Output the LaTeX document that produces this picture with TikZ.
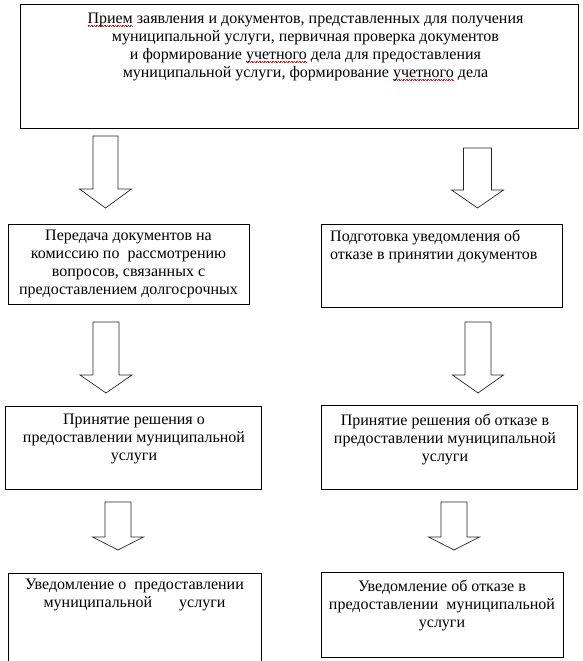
\documentclass[tikz,border=0pt]{standalone}
\usepackage{fontspec}
\setmainfont{Liberation Serif}
\definecolor{spellred}{RGB}{220,30,30}
\newcommand\redwave[1]{\leavevmode\setbox0=\hbox{#1}\rlap{\hbox to \wd0{\color{spellred}\xleaders\hbox{\rule[-2.6pt]{0.8pt}{0.6pt}\rule[-3.4pt]{0.8pt}{0.6pt}}\hfill}}\box0\relax}
\tikzset{
  box/.style={draw=black, line width=0.8pt, inner sep=0pt, anchor=north west},
  txt/.style={inner sep=0pt, font=\rmfamily\fontsize{16}{18}\selectfont, align=center, anchor=north},
  barrow/.style={draw=black!85, line width=0.7pt, fill=white, line join=miter}
}
\newcommand\BArrow[6]{\draw[barrow] (#1-#5,#2) -- (#1+#5,#2) -- (#1+#5,#3) -- (#1+#6,#3) -- (#1,#4) -- (#1-#6,#3) -- (#1-#5,#3) -- cycle;}
\begin{document}
\begin{tikzpicture}[x=1pt,y=-1pt]
\useasboundingbox[fill=white] (0,0) rectangle (582,661);
% boxes
\node[box, minimum width=558pt, minimum height=123.5pt] (top) at (20,4.5) {};
\node[box, minimum width=241pt, minimum height=80pt] (l2) at (8,224) {};
\node[box, minimum width=241pt, minimum height=83pt] (r2) at (321,224) {};
\node[box, minimum width=256.5pt, minimum height=83pt] (l3) at (4.5,406) {};
\node[box, minimum width=256pt, minimum height=84pt] (r3) at (321,405) {};
\node[box, draw=none, minimum width=253pt, minimum height=88pt] (l4) at (8,573) {};
\draw[line width=0.8pt] (l4.south west) -- (l4.north west) -- (l4.north east) -- (l4.south east);
\node[box, minimum width=242pt, minimum height=85pt] (r4) at (321,572) {};
% texts
\node[txt] (ttop) at (305.5,12.5) {\redwave{Прием} заявления и документов, представленных для получения\\
муниципальной услуги, первичная проверка документов\\
и формирование \redwave{учетного} дела для предоставления\\
муниципальной услуги, формирование \redwave{учетного} дела};
\node[txt] (tl2) at (128.5,229.5) {Передача документов на\\
комиссию по\ \ рассмотрению\\
вопросов, связанных с\\
предоставлением долгосрочных};
\node[txt, anchor=north west, align=left] (tr2) at (330,229.5) {Подготовка уведомления об\\
отказе в принятии документов};
\node[txt] (tl3) at (134,414) {Принятие решения о\\
предоставлении муниципальной\\
услуги};
\node[txt] (tr3) at (445,414) {Принятие решения об отказе в\\
предоставлении муниципальной\\
услуги};
\node[txt] (tl4) at (134.5,578.5) {Уведомление о\ \ предоставлении\\
муниципальной\hspace{27pt}услуги};
\node[txt] (tr4) at (442,580) {Уведомление об отказе в\\
предоставлении\ \ муниципальной\\
услуги};
% block arrows
\BArrow{105.5}{136}{189}{208}{12.5}{26}
\BArrow{477.5}{148}{190}{208}{14}{26}
\BArrow{106}{322}{375}{393}{13}{26}
\BArrow{478}{322}{375}{393}{13}{25.5}
\BArrow{118}{502}{537}{550}{13}{25.5}
\BArrow{454}{502}{537}{550}{13}{25.5}
\end{tikzpicture}
\end{document}
